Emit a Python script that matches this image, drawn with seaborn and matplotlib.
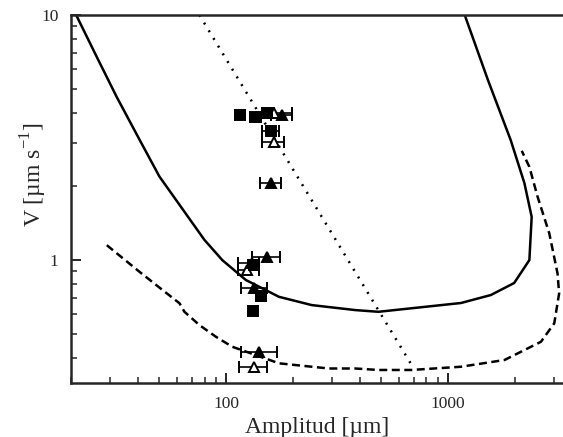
import numpy as np
import pandas as pd
import matplotlib
matplotlib.use("Agg")
import matplotlib.pyplot as plt
import seaborn as sns

# --- curves (log-log) ---
solid_x = [21.1, 26.1, 32.1, 40.8, 50.1, 79.8, 96.1, 122.8, 173.1, 243.3, 382, 486,
           1145, 1561, 1988, 2328, 2384, 2211, 1917, 1514, 1190]
solid_y = [10.0, 6.76, 4.64, 3.09, 2.19, 1.21, 1.0, 0.829, 0.708, 0.655, 0.625, 0.615,
           0.668, 0.72, 0.806, 1.0, 1.50, 2.06, 3.09, 5.43, 10.0]

dashed_x = [29.0, 40.8, 50.1, 61.7, 64.9, 75.8, 90.1, 106.5, 173.1, 290, 382, 486, 683,
            1145, 1798, 2625, 3014, 3170, 3118, 2862, 2535, 2328, 2151]
dashed_y = [1.15, 0.894, 0.772, 0.666, 0.615, 0.543, 0.486, 0.443, 0.379, 0.361, 0.361, 0.356,
            0.356, 0.367, 0.391, 0.464, 0.552, 0.731, 0.882, 1.285, 1.813, 2.40, 2.79]

dotted_x = [75.8, 686]
dotted_y = [10.0, 0.373]

# --- measured points: amplitude, velocity, error bar low/high, marker kind ---
pt_x    = [115.3, 135.1, 152.9, 178.6, 164.4, 158.9, 163.9, 159.3,
           153.4, 131.4, 133.7, 124.8, 133.7, 143.3, 132.7, 140.8, 133.7]
pt_y    = [3.91, 3.83, 3.98, 3.91, 3.97, 3.37, 3.04, 2.06,
           1.03, 0.969, 0.954, 0.91, 0.766, 0.713, 0.619, 0.422, 0.367]
pt_xlo  = [109.6, 127.9, 145.2, 160.0, 145.2, 145.2, 145.2, 142.3,
           131.4, 113.7, 126.0, 113.7, 116.6, 136.1, 126.1, 116.6, 114.5]
pt_xhi  = [121.4, 143.3, 165.0, 197.9, 197.9, 173.1, 183.2, 176.2,
           174.9, 140.8, 141.0, 140.8, 153.4, 150.9, 139.8, 170.1, 153.4]
pt_kind = ["sq", "sq", "sq", "tri", "otri", "sq", "otri", "tri",
           "tri", "tri", "sq", "otri", "tri", "sq", "sq", "tri", "otri"]

sns.set_style("ticks")
plt.rcParams["font.family"] = ["Liberation Serif", "DejaVu Serif"]
plt.rcParams["mathtext.fontset"] = "custom"
plt.rcParams["mathtext.rm"] = "Liberation Serif"

fig = plt.figure(figsize=(5.63, 4.37), dpi=100)
ax = fig.add_axes([71 / 563, 54 / 437, 492 / 563, 368 / 437])

curves = pd.DataFrame({
    "x": solid_x + dashed_x + dotted_x,
    "y": solid_y + dashed_y + dotted_y,
    "curve": ["solid"] * len(solid_x) + ["dashed"] * len(dashed_x) + ["dotted"] * len(dotted_x),
})
styles = {"solid": "-", "dashed": (0, (3.2, 1.8)), "dotted": (0, (0.8, 2.8))}
for name, grp in curves.groupby("curve", sort=False):
    sns.lineplot(data=grp, x="x", y="y", sort=False, estimator=None, ax=ax,
                 color="black", lw=1.8, linestyle=styles[name], legend=False)

pts = pd.DataFrame({"x": pt_x, "y": pt_y, "lo": pt_xlo, "hi": pt_xhi, "kind": pt_kind})
markers = {"sq": ("s", "black"), "tri": ("^", "black"), "otri": ("^", "white")}
for kind, grp in pts.groupby("kind"):
    m, fc = markers[kind]
    xerr = np.vstack([grp["x"] - grp["lo"], grp["hi"] - grp["x"]])
    ax.errorbar(grp["x"], grp["y"], xerr=xerr, fmt=m, ms=6.5, mfc=fc, mec="black",
                mew=1.4, ecolor="black", elinewidth=1.2, capsize=4, capthick=1.2, zorder=3)

ax.set_xscale("log")
ax.set_yscale("log")
ax.set_xlim(20, 3300)
ax.set_ylim(0.315, 10)
ax.set_xticks([100, 1000])
ax.set_xticklabels(["100", "1000"])
ax.set_yticks([1, 10])
ax.set_yticklabels(["1", "10"])

ax.tick_params(which="major", direction="in", length=7, width=1.4, labelsize=12.5, pad=9)
ax.tick_params(which="minor", direction="in", length=4, width=1.1)
ax.tick_params(axis="y", which="minor", left=True)

for side in ["left", "bottom", "top"]:
    ax.spines[side].set_linewidth(1.8)
    ax.spines[side].set_visible(True)
ax.spines["right"].set_visible(False)

ax.set_xlabel("Amplitud [µm]", fontsize=17, labelpad=4)
ax.set_ylabel(r"V [µm s$^{\mathregular{-1}}$]", fontsize=17)
ax.yaxis.set_label_coords(-0.045, 0.565)

fig.savefig("out.png", dpi=100)
